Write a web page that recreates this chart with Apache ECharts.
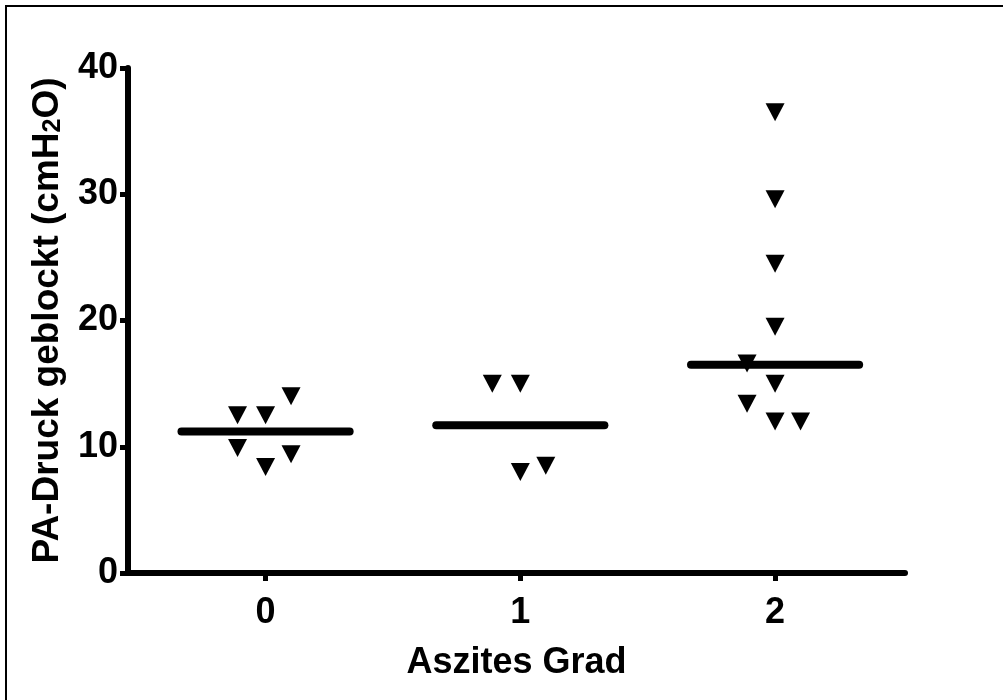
<!DOCTYPE html>
<html>
<head>
<meta charset="utf-8">
<title>PA-Druck geblockt</title>
<script src="https://cdn.jsdelivr.net/npm/echarts@6/dist/echarts.min.js"></script>
<style>
  html, body { margin: 0; padding: 0; background: #fff; }
  #chart { width: 1003px; height: 700px; }
</style>
</head>
<body>
<div id="chart"></div>
<script>
// Aszites Grad groups and the points
var groups = [0, 1, 2];
var grad0 = [12.5, 12.5, 14.0, 9.9, 8.4, 9.4];
var grad0Offset = [-0.11, 0, 0.1, -0.11, 0, 0.1];
var grad1 = [15.0, 15.0, 8.0, 8.5];
var grad1Offset = [-0.11, 0, 0, 0.1];
var grad2 = [36.5, 29.6, 24.5, 19.5, 16.6, 15.0, 13.4, 12.0, 12.0];
var grad2Offset = [0, 0, 0, 0, -0.11, 0, -0.11, 0, 0.1];
var medians = [11.2, 11.7, 16.5];
var yTicks = [0, 10, 20, 30, 40];

function points(group, values, offsets) {
    return values.map(function (v, i) {
        return [group + offsets[i], v];
    });
}

var scatterData = []
    .concat(points(0, grad0, grad0Offset))
    .concat(points(1, grad1, grad1Offset))
    .concat(points(2, grad2, grad2Offset));

var myChart = echarts.init(document.getElementById('chart'));
var font = '"Liberation Sans", Arial, sans-serif';

myChart.setOption({
    animation: false,
    backgroundColor: '#fff',
    graphic: [{
        type: 'rect',
        shape: {x: 6, y: 6, width: 1100, height: 1100},
        style: {fill: null, stroke: '#000', lineWidth: 2}
    }],
    grid: {left: 128, right: 98, top: 68, bottom: 127},
    xAxis: {
        type: 'value',
        min: -0.54,
        max: 2.51,
        name: 'Aszites Grad',
        nameLocation: 'middle',
        nameGap: 72,
        nameTextStyle: {fontFamily: font, fontWeight: 'bold', fontSize: 36, color: '#000'},
        splitLine: {show: false},
        axisLine: {onZero: false, lineStyle: {color: '#000', width: 6, cap: 'round'}},
        axisTick: {
            customValues: groups,
            length: 8,
            lineStyle: {color: '#000', width: 5}
        },
        axisLabel: {
            customValues: groups,
            margin: 22,
            fontFamily: font, fontWeight: 'bold', fontSize: 36, color: '#000'
        }
    },
    yAxis: {
        type: 'value',
        min: 0,
        max: 40,
        interval: 10,
        name: 'PA-Druck geblockt (cmH{sub|2}O)',
        nameLocation: 'middle',
        nameGap: 62,
        nameTextStyle: {
            fontFamily: font, fontWeight: 'bold', fontSize: 37, color: '#000',
            rich: {sub: {fontFamily: font, fontWeight: 'bold', fontSize: 25, color: '#000', verticalAlign: 'bottom'}}
        },
        splitLine: {show: false},
        axisLine: {onZero: false, lineStyle: {color: '#000', width: 6, cap: 'round'}},
        axisTick: {length: 8, lineStyle: {color: '#000', width: 5}},
        axisLabel: {
            margin: 10,
            fontFamily: font, fontWeight: 'bold', fontSize: 36, color: '#000',
            formatter: function (v) { return yTicks.indexOf(v) >= 0 ? String(v) : ''; }
        }
    },
    series: [
        {
            name: 'PA-Druck',
            type: 'scatter',
            symbol: 'triangle',
            symbolRotate: 180,
            symbolSize: [19, 18],
            itemStyle: {color: '#000', opacity: 1},
            data: scatterData
        },
        {
            name: 'Median',
            type: 'custom',
            renderItem: function (params, api) {
                var x = api.value(0);
                var y = api.value(1);
                var a = api.coord([x - 0.33, y]);
                var b = api.coord([x + 0.33, y]);
                return {
                    type: 'line',
                    shape: {x1: a[0], y1: a[1], x2: b[0], y2: b[1]},
                    style: {stroke: '#000', lineWidth: 8, lineCap: 'round'}
                };
            },
            data: groups.map(function (g, i) { return [g, medians[i]]; })
        }
    ]
});
</script>
</body>
</html>
